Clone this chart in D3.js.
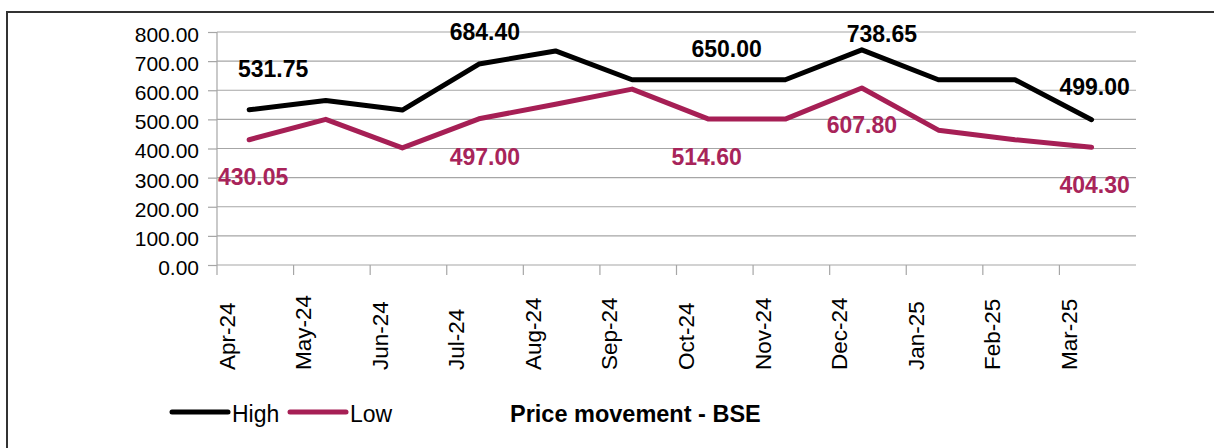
<!DOCTYPE html>
<html>
<head>
<meta charset="utf-8">
<script src="https://cdn.jsdelivr.net/npm/d3@7"></script>
<style>
  body { margin: 0; background: #fff; }
  svg { font-family: "Liberation Sans", Arial, Helvetica, sans-serif; }
  .grid line { stroke: #a6a6a6; stroke-width: 1.2; }
  .axis path, .axis line { stroke: #a6a6a6; stroke-width: 1.2; }
  .axis text { fill: #000; }
  .series { fill: none; stroke-width: 5; stroke-linejoin: round; stroke-linecap: round; }
</style>
</head>
<body>
<script>
// price movement on BSE, monthly high / low
const months = ['Apr-24', 'May-24', 'Jun-24', 'Jul-24', 'Aug-24', 'Sep-24',
                'Oct-24', 'Nov-24', 'Dec-24', 'Jan-25', 'Feb-25', 'Mar-25'];
const highValues = [533, 565, 532, 690, 735, 636, 636, 636, 738.65, 636, 636, 499];
const lowValues = [430.05, 500, 402, 502, 552, 604, 501, 501, 607.8, 463, 430, 404.3];
const yTicks = [0, 100, 200, 300, 400, 500, 600, 700, 800];
// data labels as printed on the chart: [month index, text]
const highLabels = [[0, '531.75'], [3, '684.40'], [6, '650.00'], [8, '738.65'], [11, '499.00']];
const lowLabels = [[0, '430.05'], [3, '497.00'], [6, '514.60'], [8, '607.80'], [11, '404.30']];

// label nudges relative to the point, in px (layout only)
const highNudge = [[24, -33], [6, -24], [18, -23], [20, -8], [3, -25]];
const lowNudge = [[4, 45], [6, 46], [-2, 46], [0, 45], [3, 46]];

const series = [
    {name: 'High', values: highValues, labels: highLabels, nudge: highNudge, color: '#000000', labelcolor: '#000000'},
    {name: 'Low', values: lowValues, labels: lowLabels, nudge: lowNudge, color: '#a61f55', labelcolor: '#a8245a'}
];

const W = 1214, H = 448;
const plot = {left: 217, right: 1136, top: 32, bottom: 265};

const svg = d3.select('body').append('svg')
    .attr('width', W)
    .attr('height', H);

// outer frame (only top and left edges fall inside the picture)
svg.append('rect')
    .attr('x', 7)
    .attr('y', 12)
    .attr('width', W + 20)
    .attr('height', H + 20)
    .attr('fill', 'none')
    .attr('stroke', '#333')
    .attr('stroke-width', 2);

const x = d3.scaleBand()
    .domain(months)
    .range([plot.left, plot.right])
    .padding(0);
const bw = x.bandwidth();
const px = function(i) { return x(months[i]) + bw * 0.42; };

const y = d3.scaleLinear()
    .domain([0, 800])
    .range([plot.bottom, plot.top]);

// horizontal grid
svg.append('g')
    .attr('class', 'grid')
    .selectAll('line')
    .data(yTicks)
  .enter().append('line')
    .attr('x1', plot.left)
    .attr('x2', plot.right)
    .attr('y1', function(d) { return y(d); })
    .attr('y2', function(d) { return y(d); });

// y axis
const yAxis = d3.axisLeft(y)
    .tickValues(yTicks)
    .tickSize(9)
    .tickPadding(9)
    .tickFormat(d3.format('.2f'));

svg.append('g')
    .attr('class', 'axis y')
    .attr('transform', 'translate(' + plot.left + ',0)')
    .call(yAxis)
    .call(function(g) { g.select('.domain').attr('d', 'M0,' + plot.top + 'V' + (plot.bottom + 10)); })
  .selectAll('.tick text')
    .attr('dy', '0.45em')
    .style('font-size', '21px');

// x axis: ticks at category edges, rotated labels
const xg = svg.append('g')
    .attr('class', 'axis x');

xg.selectAll('line')
    .data(months.slice(1))
  .enter().append('line')
    .attr('x1', function(d) { return x(d); })
    .attr('x2', function(d) { return x(d); })
    .attr('y1', plot.bottom)
    .attr('y2', plot.bottom + 10);

xg.selectAll('text')
    .data(months)
  .enter().append('text')
    .attr('transform', function(d) { return 'translate(' + (x(d) + 17.5) + ',370) rotate(-90)'; })
    .style('text-anchor', 'start')
    .style('font-size', '22.5px')
    .text(function(d) { return d; });

// lines
const line = d3.line()
    .x(function(d, i) { return px(i); })
    .y(function(d) { return y(d); });

series.forEach(function(s) {
    svg.append('path')
        .datum(s.values)
        .attr('class', 'series')
        .attr('stroke', s.color)
        .attr('d', line);
});

// data labels
series.forEach(function(s) {
    svg.append('g')
        .selectAll('text')
        .data(s.labels)
      .enter().append('text')
        .attr('x', function(d, j) { return px(d[0]) + s.nudge[j][0]; })
        .attr('y', function(d, j) { return y(s.values[d[0]]) + s.nudge[j][1]; })
        .style('text-anchor', 'middle')
        .style('font-size', '23px')
        .style('font-weight', 'bold')
        .attr('fill', s.labelcolor)
        .text(function(d) { return d[1]; });
});

// legend
const legendpos = [172, 290];
const legend = svg.selectAll('.legend')
    .data(series)
  .enter().append('g')
    .attr('class', 'legend')
    .attr('transform', function(d, i) { return 'translate(' + legendpos[i] + ',412)'; });

legend.append('line')
    .attr('x1', 0)
    .attr('x2', 56)
    .attr('stroke', function(d) { return d.color; })
    .attr('stroke-width', 5)
    .attr('stroke-linecap', 'round');

legend.append('text')
    .attr('x', 60)
    .attr('y', 10)
    .style('font-size', '23px')
    .text(function(d) { return d.name; });

svg.append('text')
    .attr('x', 510)
    .attr('y', 422)
    .style('font-size', '23.5px')
    .style('font-weight', 'bold')
    .text('Price movement - BSE');
</script>
</body>
</html>
